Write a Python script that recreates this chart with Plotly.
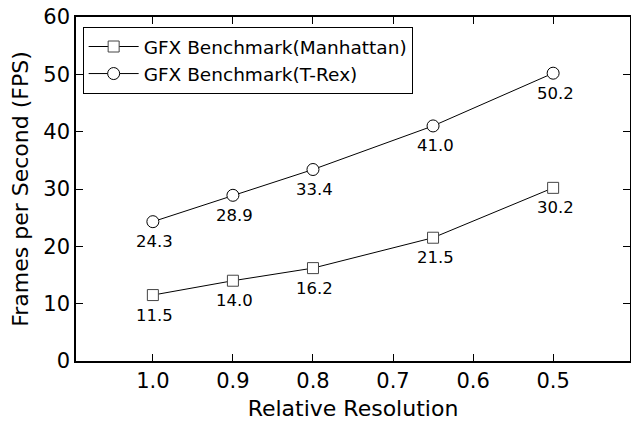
import plotly.graph_objects as go

resolution = [1.0, 0.9, 0.8, 0.65, 0.5]
manhattan = [11.5, 14.0, 16.2, 21.5, 30.2]
trex = [24.3, 28.9, 33.4, 41.0, 50.2]
x_ticks = [1.0, 0.9, 0.8, 0.7, 0.6, 0.5]
x_tick_labels = ["1.0", "0.9", "0.8", "0.7", "0.6", "0.5"]
y_ticks = [0, 10, 20, 30, 40, 50, 60]

FONT = "DejaVu Sans"

fig = go.Figure()
fig.add_trace(go.Scatter(
    x=resolution, y=manhattan, mode="lines+markers",
    name="GFX Benchmark(Manhattan)",
    line=dict(color="black", width=1),
    marker=dict(symbol="square", size=11, color="white",
                line=dict(color="#444444", width=1)),
))
fig.add_trace(go.Scatter(
    x=resolution, y=trex, mode="lines+markers",
    name="GFX Benchmark(T-Rex)",
    line=dict(color="black", width=1),
    marker=dict(symbol="circle", size=12, color="white",
                line=dict(color="black", width=1)),
))

for series in (manhattan, trex):
    for xv, yv in zip(resolution, series):
        fig.add_annotation(x=xv, y=yv, text=f"{yv:.1f}", showarrow=False,
                           yshift=-20, xshift=2,
                           font=dict(family=FONT, size=16.5, color="black"))

axis_common = dict(
    showline=True, linecolor="black", linewidth=1.5, mirror="ticks",
    ticks="inside", ticklen=7, tickwidth=1, tickcolor="black",
    showgrid=False, zeroline=False,
    tickfont=dict(family=FONT, size=21, color="black"),
)

fig.update_layout(
    width=631, height=422,
    margin=dict(l=76, r=1, t=17, b=61, autoexpand=False),
    paper_bgcolor="white", plot_bgcolor="white",
    font=dict(family=FONT, color="black"),
    xaxis=dict(range=[1.096, 0.404], tickvals=x_ticks, ticktext=x_tick_labels,
               automargin=False,
               title=dict(text="Relative Resolution", font=dict(family=FONT, size=22), standoff=9),
               **axis_common),
    yaxis=dict(range=[0, 60], tickvals=y_ticks, automargin=False,
               title=dict(text="Frames per Second (FPS)", font=dict(family=FONT, size=22), standoff=9),
               **axis_common),
    legend=dict(x=0.012, y=0.971, xanchor="left", yanchor="top",
                bordercolor="black", borderwidth=1, bgcolor="white",
                font=dict(family=FONT, size=18.5), itemwidth=50,
                tracegroupgap=0),
    showlegend=True,
)

fig.write_html("out.html", config={"displayModeBar": False},
               post_script="document.body.style.margin='0';document.body.style.padding='0';")
